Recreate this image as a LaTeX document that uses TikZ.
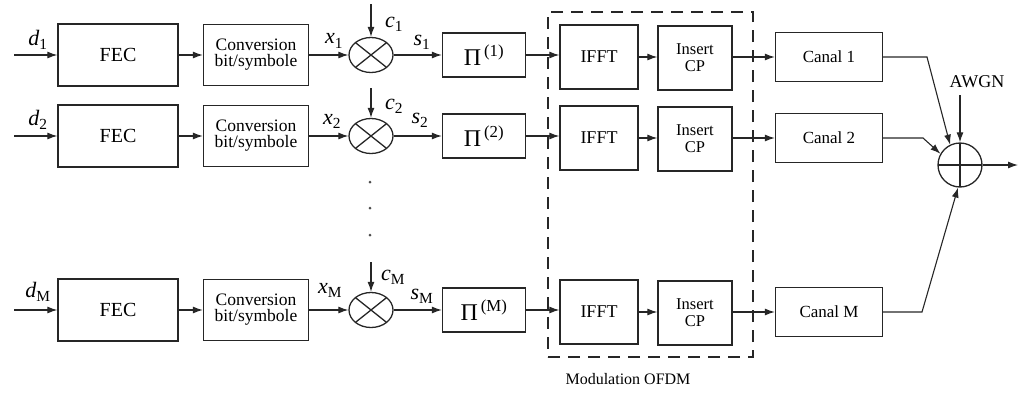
\documentclass[tikz,border=0pt]{standalone}
\usepackage{fontspec}
\setmainfont{Liberation Serif}
\usetikzlibrary{arrows.meta,shapes.geometric}
\newcommand\fsz[1]{\fontsize{#1}{#1}\selectfont}
\newcommand\vlab[2]{\textit{#1}\textsubscript{\raisebox{-1pt}{#2}}}
\begin{document}
\begin{tikzpicture}[x=1pt,y=-1pt,
  blk/.style n args={2}{draw=black!85, line width=1.3pt, minimum width=#1, minimum height=#2, inner sep=0pt, align=center},
  arr/.style={draw=black!85, line width=1.1pt, -{Latex[length=10pt,width=7pt]}},
  mix/.style={draw=black!85, ellipse, minimum width=44pt, minimum height=35pt, inner sep=0pt, line width=1.3pt,
    path picture={\draw[line width=1.3pt, black!85] (path picture bounding box.north west) -- (path picture bounding box.south east)
      (path picture bounding box.south west) -- (path picture bounding box.north east);}},
  lbl/.style={font=\fsz{22}, inner sep=0pt},
  dot/.style={circle, fill=black!70, inner sep=0pt, minimum size=3pt}]
\useasboundingbox (0,0) rectangle (1020,392);

% dashed OFDM box
\node[draw=black!85, line width=1.7pt, dash pattern=on 12pt off 8pt, minimum width=205pt, minimum height=345pt, inner sep=0pt] (ofdm) at (650.5,184.5) {};
\node[font=\fsz{16}, inner sep=0pt] (ofdmlbl) at (628,379) {Modulation OFDM};

% rows
\foreach \r/\y/\k in {1/55/1, 2/136/2, M/310/M}{
  \node[blk={120pt}{62pt}, font=\fsz{20}] (fec\r) at (118,\y) {FEC};
  \node[blk={105pt}{61pt}, font=\fontsize{17.5}{17}\selectfont] (conv\r) at (256,\y) {Conversion\\[-1pt]bit/symbole};
  \node[mix] (mix\r) at (371,\y) {};
  \node[blk={83pt}{44pt}, font=\fsz{24}] (pi\r) at (484,\y) {Π\textsuperscript{\,(\k)}};
  \node[blk={78pt}{64pt}, font=\fsz{18}] (ifft\r) at (599,\y+2) {IFFT};
  \node[blk={74pt}{64pt}, font=\fontsize{16.5}{17}\selectfont] (cp\r) at (695,\y+3) {Insert\\CP};
  \node[blk={107pt}{49pt}, font=\fsz{17}] (can\r) at (829,\y+2) {Canal \k};
  \coordinate (din\r) at (14,\y);
  \draw[arr] (din\r) -- (fec\r);
  \draw[arr] (fec\r) -- (conv\r);
  \draw[arr] (conv\r) -- (mix\r);
  \draw[arr] (mix\r) -- (pi\r);
  \draw[arr] (pi\r.east) -- (pi\r.east -| ifft\r.west);
  \draw[arr] (ifft\r) -- (ifft\r -| cp\r.west);
  \draw[arr] (cp\r.east |- can\r) -- (can\r);
}

% code inputs
\coordinate (ct1) at (371,4);
\coordinate (ct2) at (371,88);
\coordinate (ctM) at (371,262);
\draw[arr] (ct1) -- (mix1);
\draw[arr] (ct2) -- (mix2);
\draw[arr] (ctM) -- (mixM);

% labels
\node[lbl] (ld1) at (38,40) {\vlab{d}{1}};
\node[lbl] (ld2) at (38,120) {\vlab{d}{2}};
\node[lbl] (ldM) at (38,292) {\vlab{d}{M}};
\node[lbl] (lx1) at (334,41) {\vlab{x}{1}};
\node[lbl] (lx2) at (332,121) {\vlab{x}{2}};
\node[lbl] (lxM) at (330,290) {\vlab{x}{M}};
\node[lbl] (lc1) at (394,24) {\vlab{c}{1}};
\node[lbl] (lc2) at (394,106) {\vlab{c}{2}};
\node[lbl] (lcM) at (393,277) {\vlab{c}{M}};
\node[lbl] (ls1) at (422,42) {\vlab{s}{1}};
\node[lbl] (ls2) at (420,120) {\vlab{s}{2}};
\node[lbl] (lsM) at (422,296) {\vlab{s}{M}};

% vertical dots
\node[dot] (dt1) at (370,182) {};
\node[dot] (dt2) at (370,208) {};
\node[dot] (dt3) at (370,235) {};

% summation
\node[draw=black!85, circle, minimum size=44pt, inner sep=0pt, line width=1.3pt,
  path picture={\draw[line width=1.3pt, black!85] (path picture bounding box.west) -- (path picture bounding box.east)
    (path picture bounding box.north) -- (path picture bounding box.south);}] (sum) at (960,165) {};
\node[font=\fsz{18}, inner sep=0pt] (awgnlbl) at (977,82) {AWGN};
\coordinate (awgn) at (960,95);
\draw[arr] (awgn) -- (sum);
\coordinate (b1) at (927,57);
\coordinate (b2) at (923,138);
\coordinate (bM) at (922,312);
\draw[arr] (can1.east) -- (b1) -- (sum.116);
\draw[arr] (can2.east) -- (b2) -- (sum.150);
\draw[arr] (canM.east) -- (bM) -- (sum.265);
\coordinate (out) at (1018,165);
\draw[arr] (sum) -- (out);
\end{tikzpicture}
\end{document}
